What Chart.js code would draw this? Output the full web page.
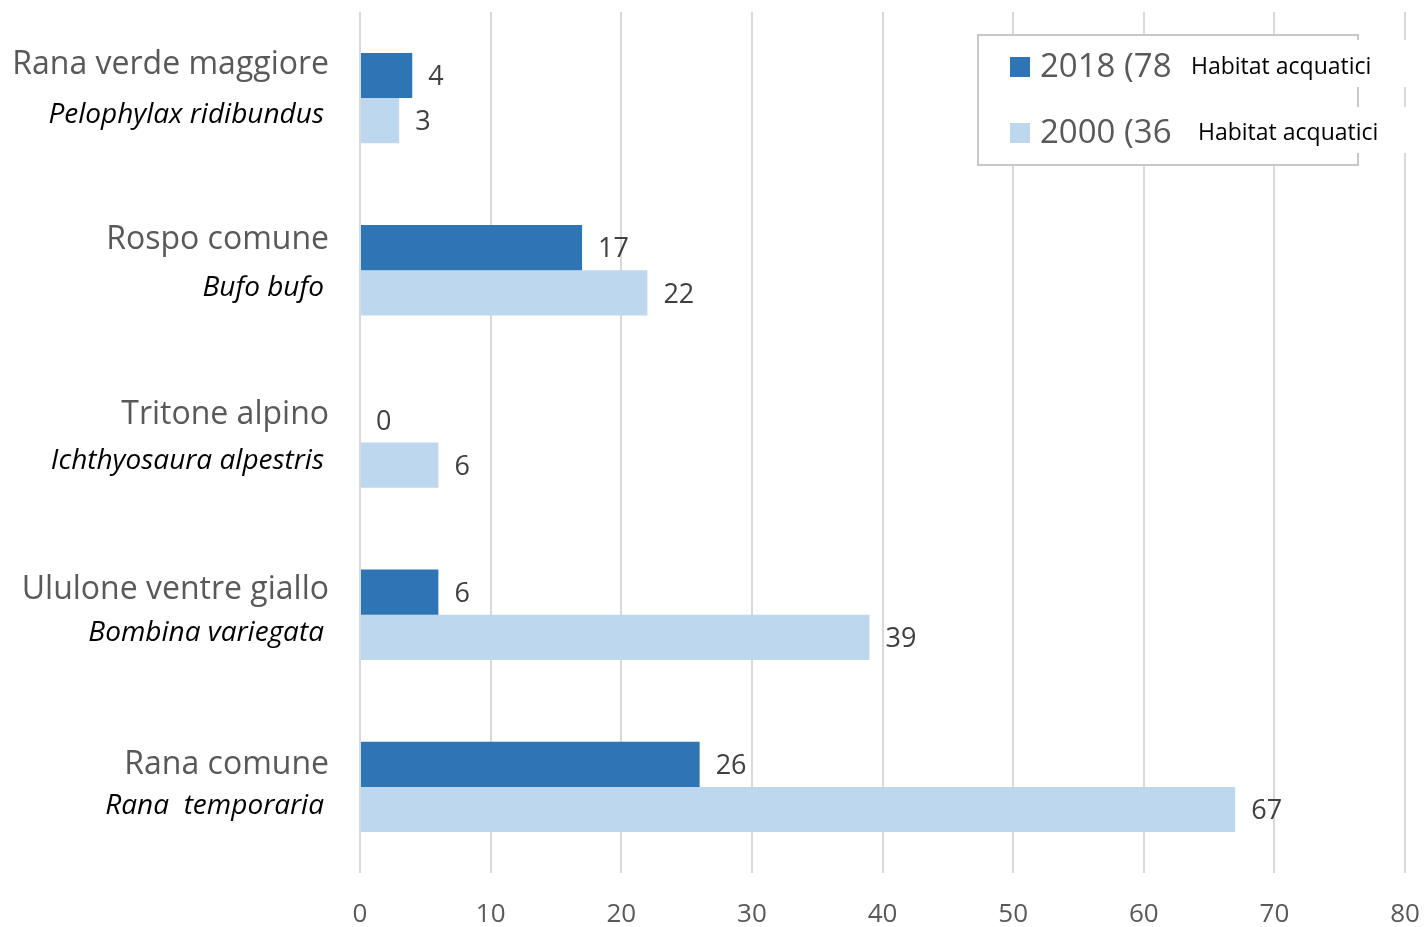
<!DOCTYPE html>
<html>
<head>
<meta charset="utf-8">
<script src="https://cdn.jsdelivr.net/npm/chart.js@4"></script>
<style>
  html, body { margin: 0; padding: 0; background: #ffffff; }
  #wrap { width: 1424px; height: 927px; position: relative; }
</style>
</head>
<body>
<div id="wrap"><canvas id="c" width="1424" height="927"></canvas></div>
<script>
// ---- data ----
const commonNames = ["Rana verde maggiore", "Rospo comune", "Tritone alpino", "Ululone ventre giallo", "Rana comune"];
const scientificNames = ["Pelophylax ridibundus", "Bufo bufo", "Ichthyosaura alpestris", "Bombina variegata", "Rana  temporaria"];
const values2018 = [4, 17, 0, 6, 26];
const values2000 = [3, 22, 6, 39, 67];
const seriesLabels = ["2018 (78", "2000 (36"];
const seriesNote = "Habitat acquatici";
const xTicks = [0, 10, 20, 30, 40, 50, 60, 70, 80];

const FONT = "'Open Sans'";
const DARK = "#2E75B6";
const LIGHT = "#BDD7EE";

const labelPlugin = {
  id: "catLabels",
  afterDraw(chart) {
    const ctx = chart.ctx;
    const y = chart.scales.y;
    ctx.save();
    ctx.textBaseline = "middle";
    ctx.textAlign = "right";
    commonNames.forEach((n, i) => {
      const cy = y.getPixelForValue(i);
      ctx.fillStyle = "#595959";
      ctx.font = "32px " + FONT;
      ctx.fillText(n, 329, cy - 33 + 2.75 * i);
      ctx.fillStyle = "#000000";
      ctx.font = "italic 28px " + FONT;
      ctx.fillText(scientificNames[i], 324, cy + 17 + 0.6 * i);
    });
    ctx.restore();
  }
};

const valuePlugin = {
  id: "valueLabels",
  afterDatasetsDraw(chart) {
    const ctx = chart.ctx;
    ctx.save();
    ctx.textBaseline = "middle";
    ctx.textAlign = "left";
    ctx.fillStyle = "#404040";
    ctx.font = "27px " + FONT;
    chart.data.datasets.forEach((ds, di) => {
      const meta = chart.getDatasetMeta(di);
      meta.data.forEach((bar, i) => {
        ctx.fillText(String(ds.data[i]), bar.x + 16, bar.y + 2);
      });
    });
    ctx.restore();
  }
};

const legendPlugin = {
  id: "customLegend",
  afterDraw(chart) {
    const ctx = chart.ctx;
    ctx.save();
    ctx.fillStyle = "#ffffff";
    ctx.fillRect(978, 35, 380, 130);
    ctx.strokeStyle = "#c8c8c8";
    ctx.lineWidth = 2;
    ctx.strokeRect(978, 35, 380, 130);
    const rows = [{ y: 67, nx: 1191, bg: [40, 87] }, { y: 133, nx: 1198, bg: [107, 153] }];
    chart.data.datasets.forEach((ds, i) => {
      const r = rows[i];
      ctx.fillStyle = ds.backgroundColor;
      ctx.fillRect(1010, r.y - 10, 20, 20);
      ctx.fillStyle = "#595959";
      ctx.font = "33px " + FONT;
      ctx.textAlign = "left";
      ctx.textBaseline = "middle";
      ctx.fillText(seriesLabels[i], 1040, r.y + 1);
      ctx.fillStyle = "#ffffff";
      ctx.fillRect(1180, r.bg[0], 240, r.bg[1] - r.bg[0]);
      ctx.fillStyle = "#000000";
      ctx.font = "23px " + FONT;
      ctx.fillText(seriesNote, r.nx, r.y);
    });
    ctx.restore();
  }
};

new Chart(document.getElementById("c"), {
  type: "bar",
  data: {
    labels: commonNames,
    datasets: [
      { label: seriesLabels[0], data: values2018, backgroundColor: DARK, barPercentage: 1, categoryPercentage: 0.525 },
      { label: seriesLabels[1], data: values2000, backgroundColor: LIGHT, barPercentage: 1, categoryPercentage: 0.525 }
    ]
  },
  options: {
    indexAxis: "y",
    responsive: false,
    animation: false,
    layout: { padding: { left: 360, right: 19, top: 12, bottom: 0 } },
    plugins: { legend: { display: false }, tooltip: { enabled: false } },
    scales: {
      x: {
        min: 0, max: 80,
        afterBuildTicks(scale) { scale.ticks = xTicks.map(v => ({ value: v })); },
        afterFit(scale) { scale.paddingLeft = 0; scale.paddingRight = 0; scale.height = 54; },
        grid: { color: "#d9d9d9", lineWidth: 2, drawTicks: false },
        border: { display: false },
        ticks: { color: "#595959", font: { family: "Open Sans", size: 26 }, padding: 26 }
      },
      y: {
        afterFit(scale) { scale.width = 0; },
        ticks: { display: false },
        grid: { display: false },
        border: { display: false }
      }
    }
  },
  plugins: [labelPlugin, valuePlugin, legendPlugin]
});
</script>
</body>
</html>
